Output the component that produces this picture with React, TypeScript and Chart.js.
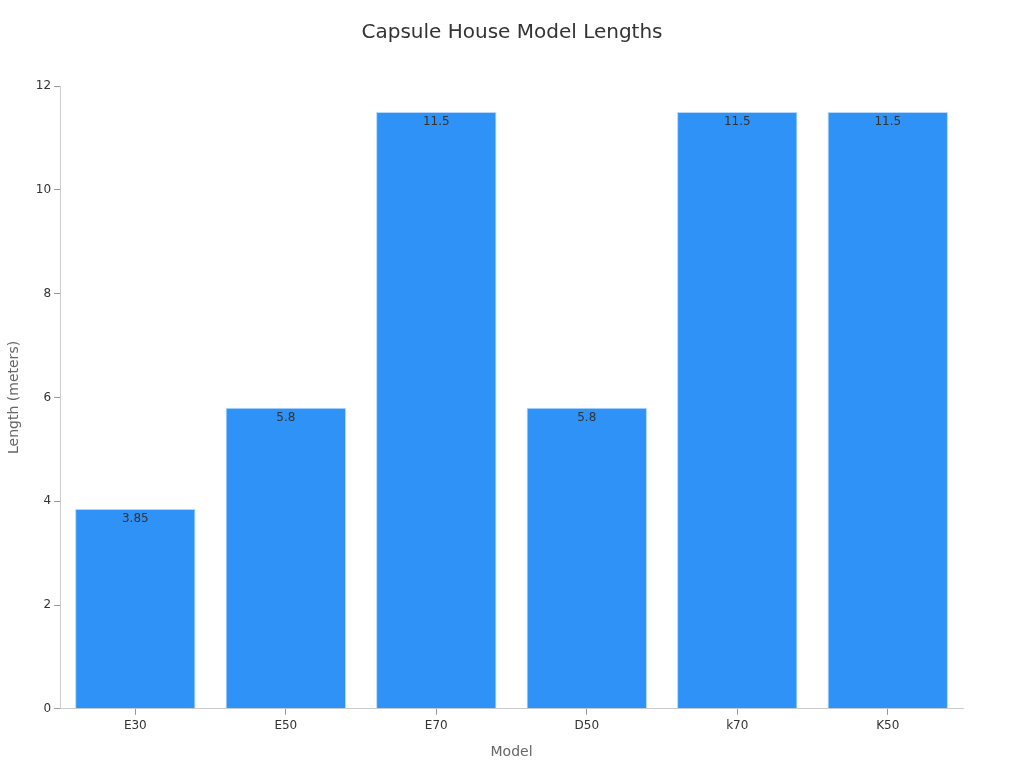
import React, { useEffect, useRef } from 'react';
import { Chart, registerables, Plugin } from 'chart.js';

Chart.register(...registerables);

const models = ['E30', 'E50', 'E70', 'D50', 'k70', 'K50'];
const lengths = [3.85, 5.8, 11.5, 5.8, 11.5, 11.5];
const yTicks = [0, 2, 4, 6, 8, 10, 12];
const chartTitle = 'Capsule House Model Lengths';

const FONT = "'DejaVu Sans', sans-serif";

// draws the value just under the top of each bar
const barLabels: Plugin<'bar'> = {
    id: 'barLabels',
    afterDatasetsDraw(chart) {
        const ctx = chart.ctx;
        const meta = chart.getDatasetMeta(0);
        ctx.save();
        ctx.font = `12px ${FONT}`;
        ctx.fillStyle = '#333333';
        ctx.textAlign = 'center';
        ctx.textBaseline = 'middle';
        meta.data.forEach((bar, i) => {
            ctx.fillText(String(lengths[i]), bar.x, bar.y + 10);
        });
        ctx.restore();
    },
};

// title centred on the whole canvas, not on the padded box
const pageTitle: Plugin<'bar'> = {
    id: 'pageTitle',
    afterDraw(chart) {
        const ctx = chart.ctx;
        ctx.save();
        ctx.font = `20px ${FONT}`;
        ctx.fillStyle = '#333333';
        ctx.textAlign = 'center';
        ctx.textBaseline = 'middle';
        ctx.fillText(chartTitle, chart.width / 2, 33);
        ctx.restore();
    },
};

const App: React.FC = () => {
    const chartRef = useRef<HTMLCanvasElement | null>(null);
    const chartInstanceRef = useRef<Chart | null>(null);

    useEffect(() => {
        if (!chartRef.current) return;
        document.body.style.margin = '0';

        chartInstanceRef.current = new Chart(chartRef.current, {
            type: 'bar',
            data: {
                labels: models,
                datasets: [{
                    label: 'Length',
                    data: lengths,
                    backgroundColor: '#2f92f7',
                    borderColor: '#b3d7fd',
                    borderWidth: 1,
                    categoryPercentage: 0.8,
                    barPercentage: 1,
                }],
            },
            options: {
                animation: false,
                responsive: true,
                maintainAspectRatio: false,
                layout: { padding: { top: 86, right: 61, left: 2, bottom: 3 } },
                scales: {
                    y: {
                        min: 0,
                        max: 12,
                        afterBuildTicks: (axis) => {
                            axis.ticks = yTicks.map(v => ({ value: v }));
                        },
                        grid: { display: true, drawOnChartArea: false, drawTicks: true, tickLength: 6, tickColor: '#999999' },
                        border: { display: true, color: '#cccccc' },
                        ticks: { color: '#333333', font: { family: FONT, size: 12 }, padding: 3 },
                        title: { display: true, text: 'Length (meters)', color: '#666666', font: { family: FONT, size: 14 }, padding: { bottom: 10 } },
                    },
                    x: {
                        grid: { display: true, offset: false, drawOnChartArea: false, drawTicks: true, tickLength: 6, tickColor: '#999999' },
                        border: { display: true, color: '#cccccc' },
                        ticks: { color: '#333333', font: { family: FONT, size: 12 }, padding: 4 },
                        title: { display: true, text: 'Model', color: '#666666', font: { family: FONT, size: 14 }, padding: { top: 7 } },
                    },
                },
                plugins: {
                    legend: { display: false },
                    tooltip: { enabled: false },
                    title: { display: false },
                },
            },
            plugins: [barLabels, pageTitle],
        });

        return () => {
            chartInstanceRef.current?.destroy();
        };
    }, []);

    return (
        <div style={{ position: 'absolute', left: 0, top: 0, width: 1024, height: 768 }}>
            <canvas ref={chartRef}></canvas>
        </div>
    );
};

export default App;
